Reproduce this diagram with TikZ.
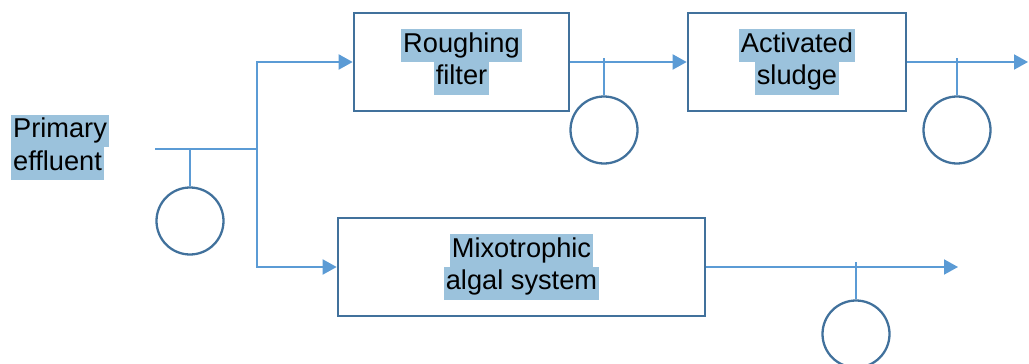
\documentclass[tikz,border=0pt]{standalone}
\usepackage{fontspec}
\setmainfont{Liberation Sans}
\usetikzlibrary{arrows.meta}
\definecolor{boxblue}{RGB}{65,113,156}
\definecolor{pipeblue}{RGB}{91,155,213}
\definecolor{hilite}{RGB}{155,194,220}
\newcommand{\marked}[1]{{\setlength{\fboxsep}{0pt}\colorbox{hilite}{\strut\kern1pt#1\kern1pt}}}

\begin{document}
\begin{tikzpicture}[
  procbox/.style={draw=boxblue,line width=1.5pt,minimum height=1.96cm,inner sep=0pt,align=center,font=\fontsize{15.5}{18.5}\selectfont},
  sampler/.style={circle,draw=boxblue,line width=1.3pt,minimum size=1.34cm,inner sep=0pt},
  pipe/.style={draw=pipeblue,line width=1.1pt},
  pipearrow/.style={pipe,-{Triangle[length=0.28cm,width=0.3cm]}}
]
\clip (0,0) rectangle (20.58,-7.28);

% Treatment units
\node[font=\fontsize{15.5}{18.5}\selectfont,align=left,anchor=west,inner sep=0pt] (prim) at (0.22,-2.95) {\marked{Primary}\\\marked{effluent}};
\node[procbox,minimum width=4.3cm] (rough) at (9.23,-1.24) {\marked{Roughing}\\\marked{filter}};
\node[procbox,minimum width=4.36cm] (act) at (15.94,-1.24) {\marked{Activated}\\\marked{sludge}};
\node[procbox,minimum width=7.34cm] (mixo) at (10.43,-5.34) {\marked{Mixotrophic}\\\marked{algal system}};

% Sampling points
\node[sampler] (s1) at (3.8,-4.42) {};
\node[sampler] (s2) at (12.08,-2.6) {};
\node[sampler] (s3) at (19.14,-2.6) {};
\node[sampler] (s4) at (17.12,-6.68) {};

% Pipes
\coordinate (feed) at (3.1,-2.98);
\coordinate (split) at (5.14,-2.98);
\coordinate (out1) at (20.56,-1.24);
\coordinate (out2) at (19.16,-5.34);
\draw[pipe] (feed) -- (split);
\draw[pipearrow] (split) |- (rough.west);
\draw[pipearrow] (split) |- (mixo.west);
\draw[pipearrow] (rough.east) -- (act.west);
\draw[pipearrow] (act.east) -- (out1);
\draw[pipearrow] (mixo.east) -- (out2);

% Taps to sampling points
\draw[pipe] (s1.north) -- (s1.north |- feed);
\draw[pipe] (s2.north) -- ([yshift=2.3pt]s2.north |- rough.east);
\draw[pipe] (s3.north) -- ([yshift=2.3pt]s3.north |- act.east);
\draw[pipe] (s4.north) -- ([yshift=2.8pt]s4.north |- mixo.east);
\end{tikzpicture}
\end{document}
